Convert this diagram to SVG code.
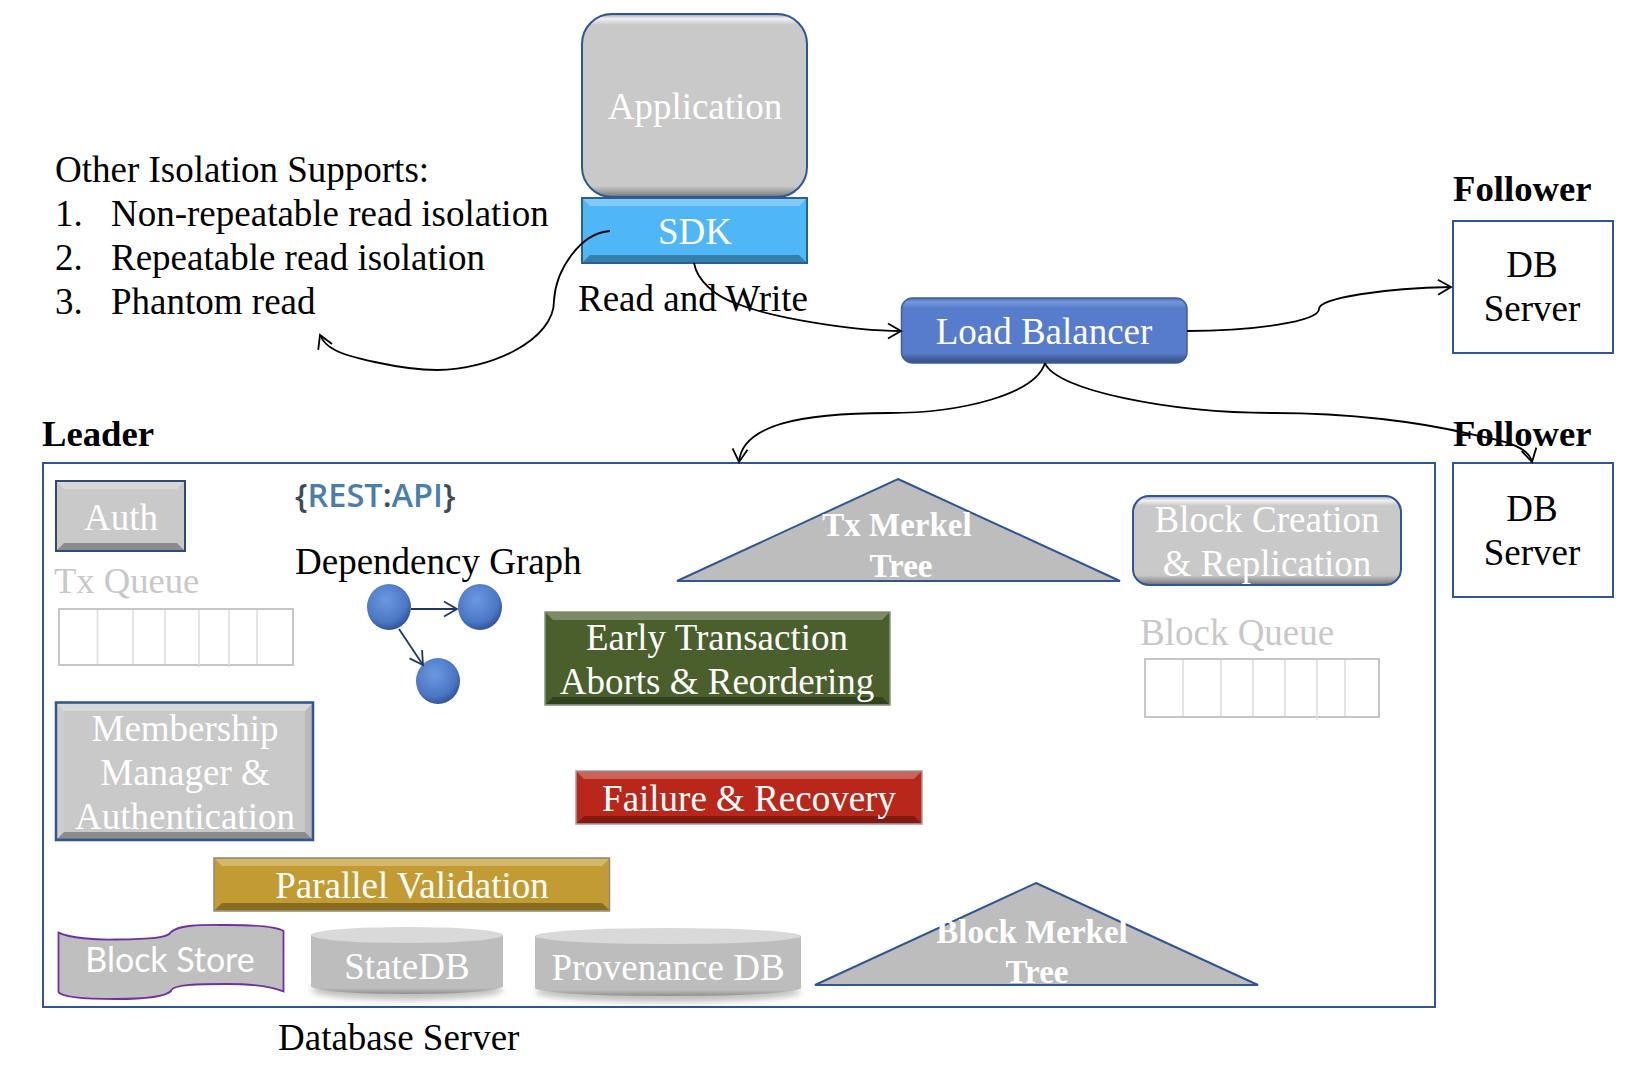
<svg xmlns="http://www.w3.org/2000/svg" width="1652" height="1072" viewBox="0 0 1652 1072">
<style>
text{font-family:"Liberation Serif","Times New Roman",serif;font-size:37px;fill:#000}
.w{fill:#fff;text-anchor:middle}
.m{text-anchor:middle}
.b{font-weight:bold;font-size:36.700px}
.t{font-size:33px;font-weight:bold;fill:#fff;text-anchor:middle}
.q{fill:#c8c8c8}
.hl{fill:#fff;opacity:.28}
.sh{fill:#000;opacity:.3}
.sd{fill:#000;opacity:.08}
.sl{fill:#fff;opacity:.1}
.box{fill:#fff;stroke:#2f5597;stroke-width:2}
.tri{fill:#bdbdbd;stroke:#2f5597;stroke-width:2;stroke-linejoin:miter}
.cell{fill:#fff;stroke:#c6c6c6;stroke-width:2}
.div{stroke:#dcdcdc;stroke-width:1.5;fill:none}
.c{fill:none;stroke:#000;stroke-width:1.8;marker-end:url(#open)}
.g{fill:none;stroke:#203864;stroke-width:1.8;marker-end:url(#openb)}
.ball{fill:url(#ball)}
.cylb{fill:url(#cyl)}
.cylt{fill:#d9d9d9}
</style>
<defs>
<marker id="open" markerUnits="userSpaceOnUse" markerWidth="18" markerHeight="20" refX="14" refY="10" orient="auto"><path d="M1,2.500L14,10L1,17.500" fill="none" stroke="#000" stroke-width="1.8"/></marker>
<marker id="openb" markerUnits="userSpaceOnUse" markerWidth="18" markerHeight="20" refX="14" refY="10" orient="auto"><path d="M1,2.500L14,10L1,17.500" fill="none" stroke="#203864" stroke-width="1.8"/></marker>
<linearGradient id="app" x1="0" y1="0" x2="0" y2="1"><stop offset="0" stop-color="#9aa3b5"/><stop offset=".025" stop-color="#f0f0f0"/><stop offset=".06" stop-color="#c9c9c9"/><stop offset=".94" stop-color="#c9c9c9"/><stop offset=".985" stop-color="#8c8c8c"/><stop offset="1" stop-color="#5e6a80"/></linearGradient>
<linearGradient id="bc" x1="0" y1="0" x2="0" y2="1"><stop offset="0" stop-color="#9aa3b5"/><stop offset=".05" stop-color="#f0f0f0"/><stop offset=".11" stop-color="#c9c9c9"/><stop offset=".89" stop-color="#c9c9c9"/><stop offset=".97" stop-color="#8c8c8c"/><stop offset="1" stop-color="#5e6a80"/></linearGradient>
<linearGradient id="lb" x1="0" y1="0" x2="0" y2="1"><stop offset="0" stop-color="#4a6cb0"/><stop offset=".06" stop-color="#7496dc"/><stop offset=".16" stop-color="#567ccb"/><stop offset=".85" stop-color="#567ccb"/><stop offset=".95" stop-color="#405a94"/><stop offset="1" stop-color="#364e80"/></linearGradient>
<linearGradient id="cyl" x1="0" y1="0" x2="0" y2="1"><stop offset="0" stop-color="#bdbdbd"/><stop offset=".9" stop-color="#bdbdbd"/><stop offset="1" stop-color="#8f8f8f"/></linearGradient>
<radialGradient id="ball" cx=".42" cy=".35" r=".7"><stop offset="0" stop-color="#6d97e0"/><stop offset=".7" stop-color="#4a76c4"/><stop offset="1" stop-color="#2c4c8a"/></radialGradient>
<filter id="blur" x="-10%" y="-50%" width="120%" height="200%"><feGaussianBlur stdDeviation="3"/></filter>
</defs>

<g id="application"><rect x="582" y="14" width="225" height="183" rx="30" fill="url(#app)" stroke="#2f5597" stroke-width="2"/><text class="w" x="695" y="119">Application</text></g>
<g id="sdk"><rect x="582" y="198" width="225" height="65" fill="#4fb7f5" stroke="#2a5f8f" stroke-width="2"/><path class="hl" d="M583,199H806L799,206H590Z"/><path class="sh" d="M583,262H806L799,255H590Z"/><text class="w" x="695" y="244">SDK</text></g>

<g id="isolation-note">
<text x="55" y="182">Other Isolation Supports:</text>
<text x="55" y="226">1.</text><text x="111" y="226">Non-repeatable read isolation</text>
<text x="55" y="270">2.</text><text x="111" y="270">Repeatable read isolation</text>
<text x="55" y="314">3.</text><text x="111" y="314">Phantom read</text>
</g>
<text x="578" y="311">Read and Write</text>
<text class="b" x="42" y="446">Leader</text>
<text class="b" x="1453" y="201">Follower</text>
<text x="278" y="1050">Database Server</text>

<g id="load-balancer"><rect x="901.500" y="298" width="285.500" height="65" rx="11" fill="url(#lb)" stroke="#3f5f9e" stroke-width="1.5"/><text class="w" x="1044" y="344">Load Balancer</text></g>

<g id="follower-1"><rect class="box" x="1453" y="221" width="160" height="132"/><text class="m" x="1532" y="277">DB</text><text class="m" x="1532" y="321">Server</text></g>
<g id="follower-2"><rect class="box" x="1453" y="463" width="160" height="134"/><text class="m" x="1532" y="521">DB</text><text class="m" x="1532" y="565">Server</text></g>

<g id="leader"><rect class="box" x="43" y="463" width="1392" height="544"/></g>

<g id="auth"><rect x="56" y="481" width="129" height="70" fill="#c9c9c9" stroke="#2f4a7a" stroke-width="2"/><path class="hl" d="M57,482H184L177,489H64Z"/><path class="sh" d="M57,550H184L177,543H64Z"/><text class="w" x="121" y="530">Auth</text></g>

<g id="rest-api"><text x="295" y="507" style="font-family:'Open Sans',sans-serif;font-size:32.500px;font-weight:600;fill:#3f4a55">{<tspan style="fill:#4a7eab">REST</tspan>:<tspan style="fill:#4a7eab">API</tspan>}</text></g>

<g id="tx-queue"><text class="q" x="54" y="593" style="font-size:36.600px">Tx Queue</text><rect class="cell" x="59" y="609" width="234" height="56"/><path class="div" d="M97.500,610V664M133,610V664M165,610V664M199,610V667M229,610V667M257,610V664"/></g>

<g id="dependency-graph"><text x="295" y="574">Dependency Graph</text>
<ellipse class="ball" cx="389" cy="607" rx="22" ry="23"/><ellipse class="ball" cx="480" cy="607" rx="22" ry="23"/><ellipse class="ball" cx="438" cy="681" rx="22" ry="23"/></g>

<g id="tx-merkel"><path class="tri" d="M898,479L1120,581H677Z"/><text class="t" x="897" y="536">Tx Merkel</text><text class="t" x="901" y="577">Tree</text></g>

<g id="block-creation"><rect x="1133" y="496" width="268" height="89" rx="16" fill="url(#bc)" stroke="#2f5597" stroke-width="2"/><text class="w" x="1267" y="532">Block Creation</text><text class="w" x="1267" y="576">&amp; Replication</text></g>

<g id="early-abort"><rect x="545" y="612" width="345" height="93" fill="#4a5f2c" stroke="#8a9480" stroke-width="1.500"/><path class="hl" d="M546,613H889L882,620H553Z"/><path class="sh" d="M546,704H889L882,697H553Z"/><text class="w" x="717" y="650">Early Transaction</text><text class="w" x="717" y="694">Aborts &amp; Reordering</text></g>

<g id="block-queue"><text class="q" x="1140" y="645">Block Queue</text><rect class="cell" x="1145" y="659" width="234" height="58"/><path class="div" d="M1183,660V716M1221,660V716M1253,660V716M1285,660V716M1317,660V720M1345,660V716"/></g>

<g id="membership"><rect x="56" y="702.500" width="257" height="137.500" fill="#c9c9c9" stroke="#2f5597" stroke-width="2.500"/><path class="hl" d="M57,704H312L305,711H64Z"/><path class="sh" d="M57,839H312L305,832H64Z"/><path class="sl" d="M57,704V839L64,832V711Z"/><path class="sd" d="M312,704V839L305,832V711Z"/><text class="w" x="185" y="741">Membership</text><text class="w" x="185" y="785">Manager &amp;</text><text class="w" x="185" y="829">Authentication</text></g>

<g id="failure"><rect x="576" y="771" width="346" height="53" fill="#b9271b" stroke="#a0a0a0" stroke-width="1.500"/><path class="hl" d="M577,772H921L914,779H584Z"/><path class="sh" d="M577,823H921L914,816H584Z"/><text class="w" x="749" y="811">Failure &amp; Recovery</text></g>

<g id="parallel-validation"><rect x="214" y="858" width="395.500" height="53" fill="#c29b32" stroke="#8f8a78" stroke-width="1.500"/><path class="hl" d="M215,859H609L602,866H222Z"/><path class="sh" d="M215,910H609L602,903H222Z"/><text class="w" x="412" y="898">Parallel Validation</text></g>

<g id="block-store"><path d="M58.500,932.600C70,938 95,940 116,939.500C150,939 168,938 171,932C180,924 205,925 226.500,925C250,925 275,926 283.500,931V991.400C270,986 250,984 226.500,984C200,984 173,984 171,991C165,997 140,999 116,999C90,999 62,998 58.500,992Z" fill="#bfbfbf" stroke="#7030a0" stroke-width="1.800"/><text x="170" y="972" text-anchor="middle" style="font-family:Lato,sans-serif;font-size:33.900px;fill:#fff">Block Store</text></g>

<g id="state-db"><ellipse cx="407" cy="990" rx="96" ry="10" fill="#000" opacity=".25" filter="url(#blur)"/><path class="cylb" d="M311,935V986A96,8 0 0 0 503,986V935Z"/><ellipse class="cylt" cx="407" cy="935" rx="96" ry="8"/><text class="w" x="407" y="979">StateDB</text></g>

<g id="provenance-db"><ellipse cx="668" cy="992" rx="133" ry="10" fill="#000" opacity=".25" filter="url(#blur)"/><path class="cylb" d="M535,936V988A133,8 0 0 0 801,988V936Z"/><ellipse class="cylt" cx="668" cy="936" rx="133" ry="8"/><text class="w" x="668" y="980">Provenance DB</text></g>

<g id="block-merkel"><path class="tri" d="M1036,883L1258,985H815Z"/><text class="t" x="1032" y="943">Block Merkel</text><text class="t" x="1037" y="983">Tree</text></g>

<g id="connectors">
<path class="c" d="M610,231C580,233 556,270 554,300C555,340 490,370 437,370C400,370 345,356 335,350C327,346 323,342 320,335"/>
<path class="c" d="M694,263C697,280 715,297 738,304C770,317 850,331 901,331"/>
<path class="c" d="M1187,331C1250,331 1319,322 1319,309C1319,298 1385,288 1451,287"/>
<path class="c" d="M1045,363C1035,395 960,413 889,413C800,413 742,425 739,462"/>
<path class="c" d="M1045,363C1055,390 1170,413 1274,413C1350,413 1420,422 1470,434C1500,440 1528,445 1532,462"/>
<path class="g" d="M411,609H457"/>
<path class="g" d="M399,629L423,665"/>
</g>
<text class="b" x="1453" y="446">Follower</text>
</svg>
